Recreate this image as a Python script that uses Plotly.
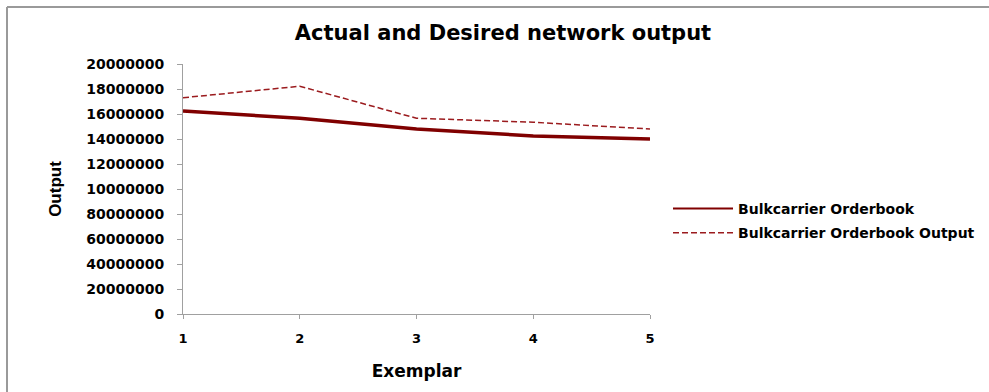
import plotly.graph_objects as go

exemplar = [1, 2, 3, 4, 5]
actual = [162.4e6, 156.6e6, 148.0e6, 142.4e6, 140.0e6]
desired = [173.0e6, 182.2e6, 156.6e6, 153.4e6, 148.0e6]
ytick_vals = [0, 20e6, 40e6, 60e6, 80e6, 100e6, 120e6, 140e6, 160e6, 180e6, 200e6]
ytick_text = ["0", "20000000", "40000000", "60000000", "80000000", "10000000",
              "12000000", "14000000", "16000000", "18000000", "20000000"]
xtick_text = ["1", "2", "3", "4", "5"]

FONT = "DejaVu Sans"
W, H = 989, 392
L, R, T, B = 183, 339, 64, 78
pw, ph = W - L - R, H - T - B

def px(x):
    return (x - L) / pw

def py(y):
    return (H - B - y) / ph

fig = go.Figure()
fig.add_trace(go.Scatter(x=exemplar, y=actual, mode="lines", name="<b>Bulkcarrier Orderbook</b>",
                         showlegend=False,
                         line=dict(color="#800000", width=3.5)))
# legend entry with the thinner sample line seen in the reference legend
fig.add_trace(go.Scatter(x=[None], y=[None], mode="lines", name="<b>Bulkcarrier Orderbook</b>",
                         legendgroup="a",
                         line=dict(color="#800000", width=2)))
fig.add_trace(go.Scatter(x=exemplar, y=desired, mode="lines", name="<b>Bulkcarrier Orderbook Output</b>",
                         legendgroup="b",
                         line=dict(color="#9B1B1E", width=1.5, dash="6px,3px")))

fig.update_layout(
    width=W, height=H,
    margin=dict(l=L, r=R, t=T, b=B, autoexpand=False),
    paper_bgcolor="white", plot_bgcolor="white",
    font=dict(family=FONT, color="#000000"),
    title=dict(text="<b>Actual and Desired network output</b>", x=503 / W, xanchor="center",
               y=1 - 33 / H, yanchor="middle", font=dict(size=21, family=FONT)),
    xaxis=dict(range=[1, 5], tickvals=exemplar, ticktext=[f"<b>{t}</b>" for t in xtick_text],
               showgrid=False, zeroline=False, showline=True, linecolor="#A0A0A0", linewidth=1,
               ticks="outside", ticklen=4, tickcolor="#A0A0A0", tickfont=dict(size=13),
               ticklabelstandoff=8,
               title=dict(text="<b>Exemplar</b>", font=dict(size=17), standoff=20)),
    yaxis=dict(range=[0, 200e6], tickvals=ytick_vals, ticktext=[f"<b>{t}</b>" for t in ytick_text],
               showgrid=False, zeroline=False, showline=True, linecolor="#A0A0A0", linewidth=1,
               ticks="outside", ticklen=5, tickcolor="#A0A0A0", tickfont=dict(size=14),
               ticklabelstandoff=10,
               title=dict(text="<b>Output</b>", font=dict(size=17, family="Liberation Sans"),
                          standoff=20)),
    legend=dict(x=px(668), y=py(193), xanchor="left", yanchor="top", itemwidth=60,
                tracegroupgap=3, font=dict(size=14), bgcolor="rgba(0,0,0,0)"),
    showlegend=True,
    shapes=[
        dict(type="line", xref="paper", yref="paper", x0=px(7), x1=px(989), y0=py(7), y1=py(7),
             line=dict(color="#9A9A9A", width=2)),
        dict(type="line", xref="paper", yref="paper", x0=px(7), x1=px(7), y0=py(7), y1=py(392),
             line=dict(color="#9A9A9A", width=2)),
    ],
)

fig.write_html("out.html", config={"displayModeBar": False},
               post_script="document.body.style.margin='0';")
